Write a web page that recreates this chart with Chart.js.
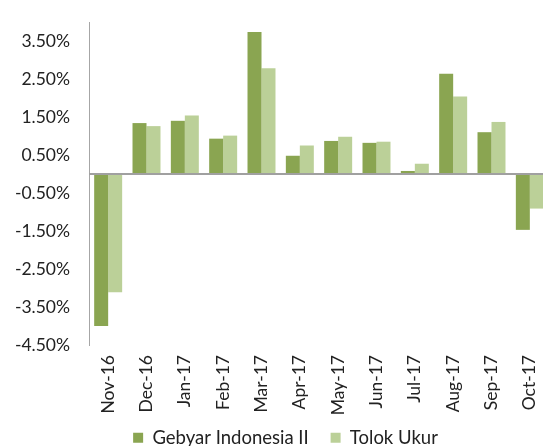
<!DOCTYPE html>
<html>
<head>
<meta charset="utf-8">
<script src="https://cdn.jsdelivr.net/npm/chart.js@4"></script>
<style>
    html, body { margin: 0; padding: 0; background: #fff; overflow: hidden; }
    #wrap { width: 576px; height: 446px; }
</style>
</head>
<body>
<div id="wrap"><canvas id="returnsChart"></canvas></div>
<script>
// Data (persen)
const months = ['Nov-16', 'Dec-16', 'Jan-17', 'Feb-17', 'Mar-17', 'Apr-17', 'May-17', 'Jun-17', 'Jul-17', 'Aug-17', 'Sep-17', 'Oct-17'];
const gebyarData = [-4.00, 1.34, 1.40, 0.93, 3.74, 0.48, 0.87, 0.82, 0.08, 2.64, 1.10, -1.47];
const tolokData = [-3.11, 1.26, 1.54, 1.01, 2.78, 0.75, 0.98, 0.85, 0.27, 2.04, 1.37, -0.91];
const yTicks = [-4.5, -3.5, -2.5, -1.5, -0.5, 0.5, 1.5, 2.5, 3.5];

const labelFont = { family: 'Lato', size: 17.5 };
const legendFont = { family: 'Lato', size: 18.5 };

// garis nol horizontal
const zeroLine = {
    id: 'zeroLine',
    afterDatasetsDraw(chart) {
        const y = chart.scales.y.getPixelForValue(0);
        const area = chart.chartArea;
        const ctx = chart.ctx;
        ctx.save();
        ctx.strokeStyle = '#a0a0a0';
        ctx.lineWidth = 2;
        ctx.beginPath();
        ctx.moveTo(area.left, y);
        ctx.lineTo(area.right, y);
        ctx.stroke();
        ctx.restore();
    }
};

// legend digeser sedikit ke kanan seperti di Excel
const legendShift = {
    id: 'legendShift',
    beforeDraw(chart) {
        if (chart.legend) {
            chart.legend.left = 22;
        }
    }
};

new Chart(document.getElementById('returnsChart').getContext('2d'), {
    type: 'bar',
    data: {
        labels: months,
        datasets: [
            {
                label: 'Gebyar Indonesia II',
                data: gebyarData,
                backgroundColor: '#8aa551',
                barPercentage: 1.0,
                categoryPercentage: 0.73
            },
            {
                label: 'Tolok Ukur',
                data: tolokData,
                backgroundColor: '#bbd098',
                barPercentage: 1.0,
                categoryPercentage: 0.73
            }
        ]
    },
    options: {
        responsive: true,
        maintainAspectRatio: false,
        animation: false,
        layout: {
            padding: { top: 22, left: 0, right: 27, bottom: -11 }
        },
        plugins: {
            legend: {
                position: 'bottom',
                labels: {
                    font: legendFont,
                    color: '#222',
                    boxWidth: 10,
                    boxHeight: 10,
                    padding: 8,
                    // jarak antar item legend lebih lebar
                    generateLabels: function(chart) {
                        const items = Chart.defaults.plugins.legend.labels.generateLabels(chart);
                        items[0].text = items[0].text + '\u2003';
                        return items;
                    }
                }
            },
            tooltip: { enabled: false }
        },
        scales: {
            x: {
                grid: { display: false, drawTicks: false },
                border: { display: false },
                ticks: {
                    font: labelFont,
                    color: '#222',
                    minRotation: 90,
                    maxRotation: 90,
                    padding: 10
                },
                afterFit: function(scale) { scale.height = 75.5; }
            },
            y: {
                min: -4.5,
                max: 4.0,
                // tick mark transparan supaya label bergeser tanpa menambah padding vertikal
                grid: { display: true, drawOnChartArea: false, drawTicks: true, tickLength: 19, color: 'rgba(0,0,0,0)' },
                border: { display: true, color: '#a6a6a6', width: 1 },
                afterBuildTicks: function(scale) {
                    scale.ticks = yTicks.map(v => ({ value: v }));
                },
                ticks: {
                    font: labelFont,
                    color: '#222',
                    padding: 0,
                    callback: function(value) {
                        return value.toFixed(2) + '%';
                    }
                },
                afterFit: function(scale) { scale.width = 89; }
            }
        }
    },
    plugins: [zeroLine, legendShift]
});
</script>
</body>
</html>
